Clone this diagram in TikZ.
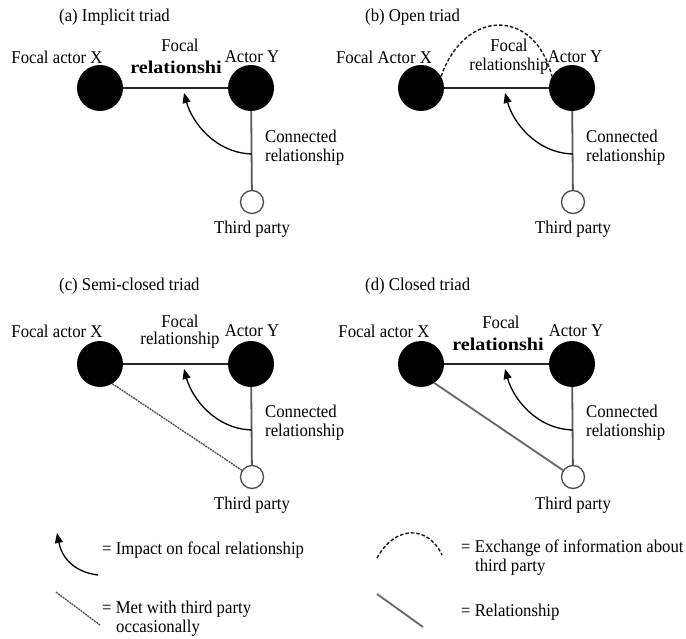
\documentclass[tikz,border=0pt]{standalone}
\usepackage{fontspec}
\setmainfont{Liberation Serif}[FakeStretch=0.93]
\newfontfamily\relbold{Liberation Serif}[FakeStretch=1.12]
\usetikzlibrary{arrows.meta}
\begin{document}
\begin{tikzpicture}[x=1pt,y=-1pt,
  txt/.style={font=\fontsize{18}{19}\selectfont, inner sep=0pt},
  actor/.style={circle, fill=black, minimum size=46pt, inner sep=0pt},
  third/.style={circle, draw=black!70, fill=white, line width=1.3pt, minimum size=23pt, inner sep=0pt},
  focal/.style={draw=black!85, line width=1.5pt},
  conn/.style={draw=black!65, line width=1.8pt},
  impact/.style={draw=black, line width=1.3pt, -{Triangle[length=10pt,width=8pt]}},
  info/.style={draw=black!90, line width=1.4pt, dash pattern=on 3.5pt off 2pt},
  met/.style={draw=black!70, line width=1.3pt, dash pattern=on 2pt off 0.8pt},
  rel/.style={draw=black!60, line width=1.8pt},
]
\useasboundingbox[fill=white] (0,0) rectangle (686,639);

% ---------- (a) Implicit triad ----------
\node[txt, anchor=west] (capA) at (59,17) {(a) Implicit triad};
\node[actor] (aX) at (100,88) {};
\node[actor] (aY) at (251,88) {};
\node[third] (aT) at (252,202) {};
\node[txt] (aXl) at (57,57) {Focal actor X};
\node[txt] (aYl) at (252,57) {Actor Y};
\node[txt] (aF) at (180,45) {Focal};
\node[txt] (aR) at (176,67) {\relbold\bfseries relationshi};
\node[txt, anchor=west, align=left] (aC) at (265,148) {Connected\\relationship};
\node[txt] (aTl) at (252,229) {Third party};
\draw[focal] (aX) -- (aY);
\draw[conn] (aY) -- (aT);
\coordinate (aS) at (252,154);
\coordinate (aE) at (184,93);
\draw[impact] (aS) .. controls (215,153) and (192,122) .. (aE);

% ---------- (b) Open triad ----------
\node[txt, anchor=west] (capB) at (365,17) {(b) Open triad};
\node[actor] (bX) at (421,88) {};
\node[actor] (bY) at (572,88) {};
\node[third] (bT) at (573,202) {};
\draw[info] (bX.30) .. controls (465,8) and (535,8) .. (bY.150);
\node[txt] (bXl) at (384,57) {Focal Actor X};
\node[txt] (bYl) at (575,57) {Actor Y};
\node[txt] (bF) at (509,45) {Focal};
\node[txt] (bR) at (509,66) {relationship};
\node[txt, anchor=west, align=left] (bC) at (586,148) {Connected\\relationship};
\node[txt] (bTl) at (573,229) {Third party};
\draw[focal] (bX) -- (bY);
\draw[conn] (bY) -- (bT);
\coordinate (bS) at (573,154);
\coordinate (bE) at (505,93);
\draw[impact] (bS) .. controls (536,153) and (513,122) .. (bE);

% ---------- (c) Semi-closed triad ----------
\node[txt, anchor=west] (capC) at (59,286) {(c) Semi-closed triad};
\node[actor] (cX) at (100,364) {};
\node[actor] (cY) at (251,364) {};
\node[third] (cT) at (252,477) {};
\node[txt] (cXl) at (57,331) {Focal actor X};
\node[txt] (cYl) at (252,331) {Actor Y};
\node[txt] (cF) at (180,321) {Focal};
\node[txt] (cR) at (180,340) {relationship};
\node[txt, anchor=west, align=left] (cC) at (265,423) {Connected\\relationship};
\node[txt] (cTl) at (252,505) {Third party};
\draw[focal] (cX) -- (cY);
\draw[conn] (cY) -- (cT);
\draw[met] (cX.-58) -- (cT);
\coordinate (cS) at (252,430);
\coordinate (cE) at (184,369);
\draw[impact] (cS) .. controls (215,429) and (192,398) .. (cE);

% ---------- (d) Closed triad ----------
\node[txt, anchor=west] (capD) at (365,286) {(d) Closed triad};
\node[actor] (dX) at (421,364) {};
\node[actor] (dY) at (572,364) {};
\node[third] (dT) at (573,477) {};
\node[txt] (dXl) at (384,331) {Focal actor X};
\node[txt] (dYl) at (576,331) {Actor Y};
\node[txt] (dF) at (501,322) {Focal};
\node[txt] (dR) at (498,344) {\relbold\bfseries relationshi};
\node[txt, anchor=west, align=left] (dC) at (586,423) {Connected\\relationship};
\node[txt] (dTl) at (573,505) {Third party};
\draw[focal] (dX) -- (dY);
\draw[conn] (dY) -- (dT);
\draw[rel] (dX.-55) -- (dT);
\coordinate (dS) at (573,430);
\coordinate (dE) at (505,369);
\draw[impact] (dS) .. controls (536,429) and (513,398) .. (dE);

% ---------- Legend ----------
\coordinate (k1s) at (98,575);
\coordinate (k1e) at (57,533);
\draw[impact] (k1s) .. controls (74,572) and (62,558) .. (k1e);
\node[txt, anchor=west] (k1t) at (102,550) {= Impact on focal relationship};

\coordinate (k2s) at (377,558);
\coordinate (k2e) at (442,555);
\draw[info] (k2s) .. controls (395,525) and (428,525) .. (k2e);
\node[txt, anchor=north west, align=left] (k2t) at (461,540)
  {= Exchange of information about\\\hspace*{14pt}third party};

\coordinate (k3s) at (56,592);
\coordinate (k3e) at (100,625);
\draw[met] (k3s) -- (k3e);
\node[txt, anchor=north west, align=left] (k3t) at (102,601)
  {= Met with third party\\\hspace*{14pt}occasionally};

\coordinate (k4s) at (377,594);
\coordinate (k4e) at (423,627);
\draw[rel] (k4s) -- (k4e);
\node[txt, anchor=west] (k4t) at (461,612) {= Relationship};
\end{tikzpicture}
\end{document}
